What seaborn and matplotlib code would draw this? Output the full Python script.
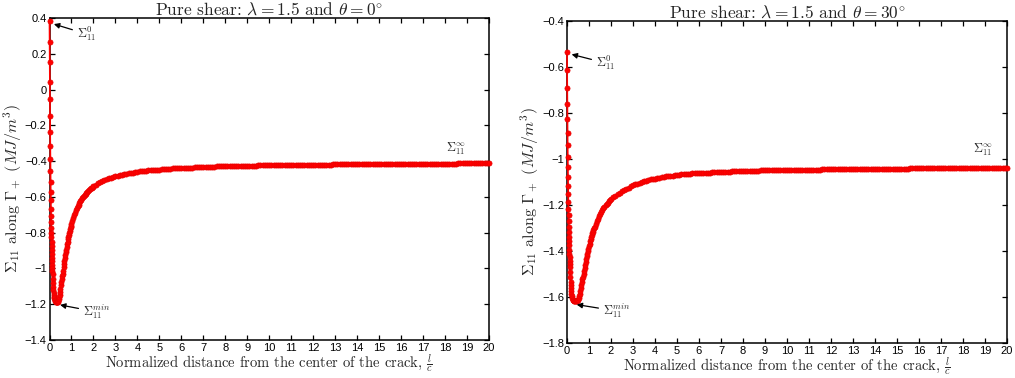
import matplotlib
matplotlib.use('Agg')
import matplotlib.pyplot as plt
import seaborn as sns
import pandas as pd
from matplotlib.ticker import FuncFormatter, FixedLocator

# ---------------- data ----------------
x_dip_left = [0.000, 0.005, 0.010, 0.015, 0.020, 0.025, 0.030, 0.035, 0.040, 0.045,
              0.050, 0.055, 0.060, 0.065, 0.070, 0.075, 0.080, 0.085, 0.090, 0.095,
              0.100, 0.105, 0.110, 0.115, 0.120, 0.125, 0.130, 0.135, 0.140, 0.150,
              0.160, 0.170, 0.180, 0.190, 0.200, 0.210, 0.220, 0.235, 0.250, 0.265,
              0.280, 0.300, 0.320, 0.340,
              0.36, 0.38, 0.40, 0.42, 0.44, 0.46, 0.48, 0.50, 0.52, 0.54,
              0.56, 0.58, 0.60, 0.62, 0.64, 0.66, 0.68, 0.70, 0.72, 0.74,
              0.76, 0.78, 0.80, 0.82, 0.84, 0.86, 0.88, 0.90, 0.92, 0.94,
              0.96, 0.98, 1.00, 1.04, 1.08, 1.12, 1.16, 1.20, 1.24, 1.28,
              1.32, 1.36, 1.40, 1.44, 1.48, 1.52, 1.56, 1.60, 1.64, 1.68,
              1.72, 1.76, 1.80, 1.84, 1.88, 1.92, 1.96, 2.00]
y_dip_left = [0.381, 0.264, 0.152, 0.044, -0.054, -0.149, -0.235, -0.315, -0.390, -0.455,
              -0.515, -0.570, -0.620, -0.665, -0.705, -0.740, -0.772, -0.800, -0.826, -0.851,
              -0.875, -0.898, -0.920, -0.941, -0.961, -0.980, -0.998, -1.015, -1.031, -1.058,
              -1.082, -1.103, -1.121, -1.136, -1.148, -1.158, -1.166, -1.174, -1.179, -1.183,
              -1.185, -1.187, -1.188, -1.188,
              -1.188, -1.185, -1.180, -1.171, -1.160, -1.146, -1.130, -1.113, -1.095, -1.077,
              -1.060, -1.045, -1.030, -1.012, -0.993, -0.975, -0.958, -0.941, -0.925, -0.910,
              -0.895, -0.880, -0.865, -0.851, -0.837, -0.824, -0.812, -0.801, -0.790, -0.780,
              -0.770, -0.760, -0.750, -0.734, -0.718, -0.703, -0.689, -0.675, -0.664, -0.653,
              -0.643, -0.634, -0.625, -0.617, -0.609, -0.601, -0.594, -0.588, -0.582, -0.577,
              -0.571, -0.566, -0.562, -0.557, -0.553, -0.549, -0.545, -0.541]

x_dip_right = [0.000, 0.005, 0.010, 0.015, 0.020, 0.025, 0.030, 0.035, 0.040, 0.045,
               0.050, 0.055, 0.060, 0.065, 0.070, 0.075, 0.080, 0.085, 0.090, 0.095,
               0.100, 0.105, 0.110, 0.115, 0.120, 0.125, 0.130, 0.140, 0.150, 0.160,
               0.170, 0.180, 0.190, 0.200, 0.215, 0.230, 0.250, 0.270, 0.300, 0.330,
               0.360, 0.390,
               0.420, 0.450, 0.475, 0.500, 0.525, 0.550, 0.575, 0.600, 0.625, 0.650,
               0.675, 0.700, 0.725, 0.750, 0.775, 0.800, 0.825, 0.850, 0.875, 0.900,
               0.925, 0.950, 0.975, 1.000, 1.025, 1.050, 1.075, 1.100, 1.125, 1.150,
               1.175, 1.200, 1.225, 1.250, 1.30, 1.35, 1.40, 1.45, 1.50, 1.55,
               1.60, 1.65, 1.70, 1.75, 1.80, 1.85, 1.90, 1.95, 2.00]
y_dip_right = [-0.536, -0.614, -0.690, -0.759, -0.825, -0.885, -0.940, -0.990, -1.035, -1.078,
               -1.117, -1.153, -1.186, -1.216, -1.244, -1.270, -1.294, -1.316, -1.337, -1.357,
               -1.376, -1.394, -1.411, -1.427, -1.442, -1.456, -1.469, -1.493, -1.514, -1.533,
               -1.549, -1.563, -1.575, -1.585, -1.597, -1.605, -1.611, -1.615, -1.617, -1.618,
               -1.619, -1.619,
               -1.618, -1.617, -1.615, -1.612, -1.605, -1.597, -1.587, -1.575, -1.562, -1.549,
               -1.536, -1.523, -1.512, -1.501, -1.488, -1.474, -1.461, -1.448, -1.435, -1.423,
               -1.412, -1.401, -1.390, -1.379, -1.368, -1.358, -1.349, -1.340, -1.331, -1.323,
               -1.316, -1.309, -1.301, -1.294, -1.282, -1.270, -1.259, -1.249, -1.239, -1.230,
               -1.222, -1.215, -1.208, -1.201, -1.195, -1.190, -1.184, -1.178, -1.174]

x_flat = [2.1, 2.2, 2.3, 2.4, 2.5, 2.6, 2.7, 2.8, 2.9, 3.0,
          3.1, 3.2, 3.3, 3.4, 3.5, 3.6, 3.7, 3.8, 3.9, 4.0,
          4.1, 4.2, 4.3, 4.4, 4.5, 4.6, 4.7, 4.8, 4.9, 5.0,
          5.1, 5.2, 5.3, 5.4, 5.5, 5.6, 5.7, 5.8, 5.9, 6.0,
          6.1, 6.2, 6.3, 6.4, 6.5, 6.6, 6.7, 6.8, 6.9, 7.0,
          7.1, 7.2, 7.3, 7.4, 7.5, 7.6, 7.7, 7.8, 7.9, 8.0,
          8.1, 8.2, 8.3, 8.4, 8.5, 8.6, 8.7, 8.8, 8.9, 9.0,
          9.1, 9.2, 9.3, 9.4, 9.5, 9.6, 9.7, 9.8, 9.9, 10.0,
          10.1, 10.2, 10.3, 10.4, 10.5, 10.6, 10.7, 10.8, 10.9, 11.0,
          11.1, 11.2, 11.3, 11.4, 11.5, 11.6, 11.7, 11.8, 11.9, 12.0,
          12.1, 12.2, 12.3, 12.4, 12.5, 12.6, 12.7, 12.8, 12.9, 13.0,
          13.1, 13.2, 13.3, 13.4, 13.5, 13.6, 13.7, 13.8, 13.9, 14.0,
          14.1, 14.2, 14.3, 14.4, 14.5, 14.6, 14.7, 14.8, 14.9, 15.0,
          15.1, 15.2, 15.3, 15.4, 15.5, 15.6, 15.7, 15.8, 15.9, 16.0,
          16.1, 16.2, 16.3, 16.4, 16.5, 16.6, 16.7, 16.8, 16.9, 17.0,
          17.1, 17.2, 17.3, 17.4, 17.5, 17.6, 17.7, 17.8, 17.9, 18.0,
          18.1, 18.2, 18.3, 18.4, 18.5, 18.6, 18.7, 18.8, 18.9, 19.0,
          19.1, 19.2, 19.3, 19.4, 19.5, 19.6, 19.7, 19.8, 19.9, 20.0]
y_flat_left = [-0.533, -0.525, -0.519, -0.513, -0.507, -0.502, -0.497, -0.493, -0.489, -0.485,
               -0.482, -0.479, -0.476, -0.473, -0.470, -0.468, -0.466, -0.464, -0.462, -0.460,
               -0.458, -0.457, -0.455, -0.454, -0.452, -0.451, -0.450, -0.449, -0.448, -0.447,
               -0.446, -0.445, -0.444, -0.443, -0.442, -0.441, -0.441, -0.440, -0.439, -0.438,
               -0.438, -0.437, -0.437, -0.436, -0.436, -0.435, -0.435, -0.434, -0.434, -0.433,
               -0.433, -0.432, -0.432, -0.431, -0.431, -0.430, -0.430, -0.430, -0.429, -0.429,
               -0.429, -0.428, -0.428, -0.428, -0.427, -0.427, -0.427, -0.426, -0.426, -0.426,
               -0.425, -0.425, -0.425, -0.425, -0.424, -0.424, -0.424, -0.424, -0.423, -0.423,
               -0.423, -0.423, -0.422, -0.422, -0.422, -0.422, -0.422, -0.421, -0.421, -0.421,
               -0.421, -0.421, -0.421, -0.420, -0.420, -0.420, -0.420, -0.420, -0.420, -0.420,
               -0.419, -0.419, -0.419, -0.419, -0.419, -0.419, -0.419, -0.419, -0.418, -0.418,
               -0.418, -0.418, -0.418, -0.418, -0.418, -0.418, -0.418, -0.417, -0.417, -0.417,
               -0.417, -0.417, -0.417, -0.417, -0.417, -0.417, -0.417, -0.416, -0.416, -0.416,
               -0.416, -0.416, -0.416, -0.416, -0.416, -0.416, -0.416, -0.415, -0.415, -0.415,
               -0.415, -0.415, -0.415, -0.415, -0.415, -0.415, -0.415, -0.415, -0.415, -0.415,
               -0.414, -0.414, -0.414, -0.414, -0.414, -0.414, -0.414, -0.414, -0.414, -0.414,
               -0.414, -0.414, -0.414, -0.414, -0.414, -0.413, -0.413, -0.413, -0.413, -0.413,
               -0.413, -0.413, -0.413, -0.413, -0.413, -0.413, -0.413, -0.413, -0.413, -0.413]
y_flat_right = [-1.167, -1.160, -1.153, -1.146, -1.140, -1.134, -1.129, -1.124, -1.119, -1.114,
                -1.110, -1.107, -1.103, -1.100, -1.097, -1.094, -1.092, -1.089, -1.087, -1.085,
                -1.083, -1.081, -1.079, -1.078, -1.076, -1.075, -1.073, -1.072, -1.070, -1.069,
                -1.068, -1.067, -1.066, -1.066, -1.065, -1.064, -1.063, -1.063, -1.062, -1.061,
                -1.061, -1.060, -1.060, -1.059, -1.059, -1.058, -1.058, -1.057, -1.057, -1.056,
                -1.056, -1.055, -1.055, -1.055, -1.054, -1.054, -1.053, -1.053, -1.053, -1.052,
                -1.052, -1.052, -1.052, -1.051, -1.051, -1.051, -1.051, -1.050, -1.050, -1.050,
                -1.050, -1.050, -1.049, -1.049, -1.049, -1.049, -1.049, -1.048, -1.048, -1.048,
                -1.048, -1.048, -1.047, -1.047, -1.047, -1.047, -1.047, -1.047, -1.046, -1.046,
                -1.046, -1.046, -1.046, -1.046, -1.046, -1.045, -1.045, -1.045, -1.045, -1.045,
                -1.045, -1.045, -1.045, -1.045, -1.045, -1.044, -1.044, -1.044, -1.044, -1.044,
                -1.044, -1.044, -1.044, -1.044, -1.044, -1.043, -1.043, -1.043, -1.043, -1.043,
                -1.043, -1.043, -1.043, -1.043, -1.043, -1.042, -1.042, -1.042, -1.042, -1.042,
                -1.042, -1.042, -1.042, -1.042, -1.042, -1.041, -1.041, -1.041, -1.041, -1.041,
                -1.041, -1.041, -1.041, -1.041, -1.041, -1.041, -1.041, -1.041, -1.041, -1.041,
                -1.041, -1.041, -1.041, -1.040, -1.040, -1.040, -1.040, -1.040, -1.040, -1.040,
                -1.040, -1.040, -1.040, -1.040, -1.040, -1.040, -1.040, -1.040, -1.040, -1.040,
                -1.040, -1.040, -1.040, -1.039, -1.039, -1.039, -1.039, -1.039, -1.039, -1.039]

x_ticks = list(range(0, 21))
y_ticks_left = [-1.4, -1.2, -1.0, -0.8, -0.6, -0.4, -0.2, 0.0, 0.2, 0.4]
y_ticks_right = [-1.8, -1.6, -1.4, -1.2, -1.0, -0.8, -0.6, -0.4]

titles = [r"Pure shear: $\lambda = 1.5$ and $\theta = 0^{\circ}$",
          r"Pure shear: $\lambda = 1.5$ and $\theta = 30^{\circ}$"]
x_label = r"Normalized distance from the center of the crack, $\frac{l}{c}$"
y_label = r"$\Sigma_{11}$ along $\Gamma_+$ $(MJ/m^3)$"

# ---------------- style ----------------
sns.set_style('ticks')
plt.rcParams.update({
    'mathtext.fontset': 'cm',
    'xtick.direction': 'in', 'ytick.direction': 'in',
    'xtick.top': True, 'ytick.right': True,
    'axes.linewidth': 1.1,
    'xtick.major.size': 3.5, 'ytick.major.size': 3.5,
    'xtick.major.width': 0.9, 'ytick.major.width': 0.9,
    'axes.edgecolor': 'black',
})
plt.rcParams['font.family'] = ['Liberation Sans', 'DejaVu Sans']

fig = plt.figure(figsize=(10.15, 3.78), dpi=100)
W, H = 1015.0, 378.0
ax1 = fig.add_axes([49.5 / W, (H - 340) / H, 439.5 / W, 322 / H])
ax2 = fig.add_axes([567 / W, (H - 343) / H, 440 / W, 322 / H])

fmt = FuncFormatter(lambda v, p: ('%g' % round(v, 6)).replace('-', '\u2212'))


def draw(ax, xs, ys, yticks, title, ann0, annmin, anninf, ylab_x):
    df = pd.DataFrame({'x': xs, 'y': ys})
    sns.lineplot(data=df, x='x', y='y', ax=ax, sort=False, estimator=None,
                 color='#ff0000', lw=1.2, marker='o', markersize=3.7,
                 markeredgewidth=0.5, markeredgecolor='#e80000', clip_on=False, zorder=3)
    ax.set_xlim(0, 20)
    ax.set_ylim(yticks[0], yticks[-1])
    ax.xaxis.set_major_locator(FixedLocator(x_ticks))
    ax.yaxis.set_major_locator(FixedLocator(yticks))
    ax.xaxis.set_major_formatter(fmt)
    ax.yaxis.set_major_formatter(fmt)
    ax.tick_params(labelsize=8, pad=2, colors='black')
    ax.set_title(title, fontsize=12.5, fontfamily='cmr10', pad=1)
    ax.set_xlabel(x_label, fontsize=10.5, fontfamily='cmr10', labelpad=0)
    ax.set_ylabel(y_label, fontsize=11.5, fontfamily='cmr10')
    ax.yaxis.set_label_coords(ylab_x, 0.47)
    for s in ax.spines.values():
        s.set_visible(True)
        s.set_color('black')
    arrow = dict(arrowstyle='-|>', color='black', lw=0.9, mutation_scale=8,
                 shrinkA=1, shrinkB=0)
    ax.annotate(r"$\Sigma_{11}^{0}$", xy=ann0[0], xytext=ann0[1], fontsize=9,
                ha='left', va='center', arrowprops=arrow)
    ax.annotate(r"$\Sigma_{11}^{min}$", xy=annmin[0], xytext=annmin[1], fontsize=9,
                ha='left', va='center', arrowprops=arrow)
    ax.text(anninf[0], anninf[1], r"$\Sigma_{11}^{\infty}$", fontsize=9,
            ha='center', va='center')


draw(ax1, x_dip_left + x_flat, y_dip_left + y_flat_left, y_ticks_left, titles[0],
     ((0.2, 0.366), (1.25, 0.31)), ((0.48, -1.204), (1.53, -1.243)), (18.5, -0.332), -0.057)
draw(ax2, x_dip_right + x_flat, y_dip_right + y_flat_right, y_ticks_right, titles[1],
     ((0.21, -0.545), (1.32, -0.583)), ((0.44, -1.633), (1.64, -1.661)), (18.9, -0.961), -0.058)

fig.savefig('out.png', dpi=100)
